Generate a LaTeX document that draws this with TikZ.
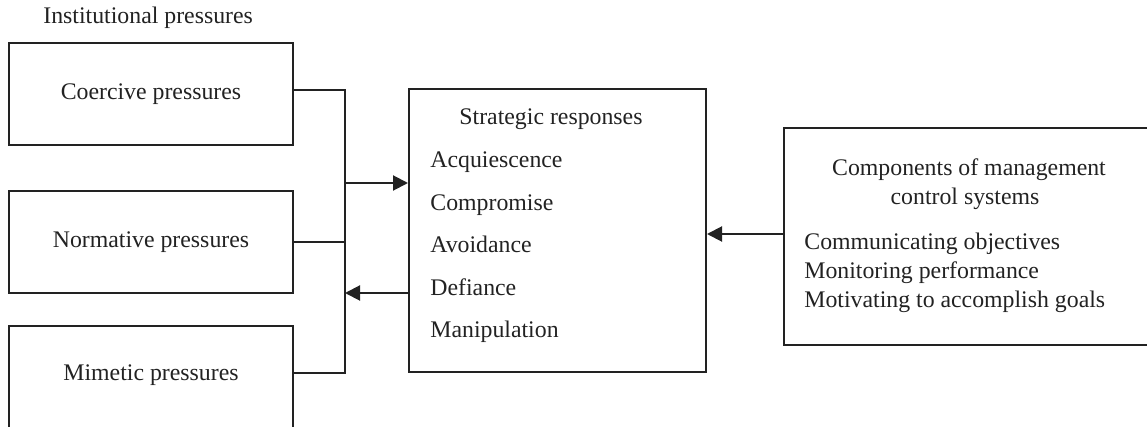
\documentclass[tikz,border=0pt]{standalone}
\usepackage{fontspec}
\setmainfont{Liberation Serif}
\usetikzlibrary{arrows.meta}
\definecolor{ink}{HTML}{222222}
\begin{document}
\begin{tikzpicture}[x=0.5pt,y=-0.5pt,
  every node/.style={text=ink},
  lbl/.style={font=\fontsize{11.9}{14.5}\selectfont, inner sep=0pt},
  box/.style={draw=ink, line width=1pt, inner sep=0pt, font=\fontsize{11.9}{14.5}\selectfont},
  link/.style={draw=ink, line width=1pt},
  tip/.style={link, -{Triangle[length=7.5pt,width=7.5pt]}}]
\clip (0,0) rectangle (1147,427);

% title above the pressure boxes
\node[lbl, anchor=base west] (title) at (43,24) {Institutional pressures};

% institutional pressure boxes
\node[box, minimum width=142pt, minimum height=51pt] (coe) at (151,94) {Coercive pressures};
\node[box, minimum width=142pt, minimum height=51pt] (nor) at (151,242) {Normative pressures};
\node[box, minimum width=142pt, minimum height=53pt] (mim) at (151,379) {};
\node[lbl] (mimt) at (151,375) {Mimetic pressures};

% strategic responses box
\node[box, minimum width=148.5pt, minimum height=141.5pt] (str) at (557.5,230.5) {};
\node[lbl, anchor=base] (strh) at (551,125) {Strategic responses};
\node[lbl, anchor=base west] (s1) at (430,168) {Acquiescence};
\node[lbl, anchor=base west] (s2) at (430,210.5) {Compromise};
\node[lbl, anchor=base west] (s3) at (430,253) {Avoidance};
\node[lbl, anchor=base west] (s4) at (430,295.5) {Defiance};
\node[lbl, anchor=base west] (s5) at (430,338) {Manipulation};

% management control systems box
\node[box, minimum width=190pt, minimum height=108.5pt] (mcs) at (974,236.5) {};
\node[lbl, anchor=base] (mh1) at (969,176) {Components of management};
\node[lbl, anchor=base] (mh2) at (965,205) {control systems};
\node[lbl, anchor=base west] (m1) at (804,250) {Communicating objectives};
\node[lbl, anchor=base west] (m2) at (804,279) {Monitoring performance};
\node[lbl, anchor=base west] (m3) at (804,308) {Motivating to accomplish goals};

% collecting bus between pressures and responses
\coordinate (busTop) at (345,90);
\coordinate (busBot) at (345,373);
\coordinate (inY) at (0,183);
\coordinate (outY) at (0,293);
\coordinate (mcsY) at (0,234);

\draw[link] (coe.east |- busTop) -- (busTop) -- (busBot) -- (mim.east |- busBot);
\draw[link] (nor.east) -- (nor.east -| busTop);
\draw[tip] (busTop |- inY) -- (str.west |- inY);
\draw[tip] (str.west |- outY) -- (busTop |- outY);
\draw[tip] (mcs.west |- mcsY) -- (str.east |- mcsY);
\end{tikzpicture}
\end{document}
